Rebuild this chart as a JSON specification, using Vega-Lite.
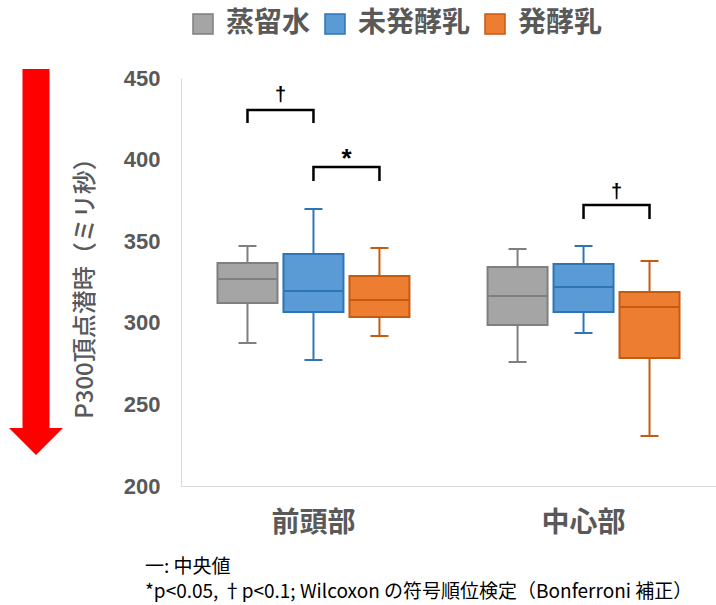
{
  "$schema": "https://vega.github.io/schema/vega-lite/v6.json",
  "padding": {"left": 9, "top": 10, "right": 0, "bottom": 0},
  "background": "white",
  "title": {
    "text": ["一:  中央値", "*p<0.05,  †p<0.1; Wilcoxon の符号順位検定（Bonferroni 補正）"],
    "orient": "bottom",
    "anchor": "start",
    "frame": "bounds",
    "dx": 136,
    "offset": 21,
    "font": "Noto Sans CJK JP",
    "fontSize": 19,
    "fontWeight": "normal",
    "color": "#000000",
    "lineHeight": 25
  },
  "datasets": {
    "boxes": [
      {"region": "前頭部", "group": "蒸留水", "min": 287.6, "q1": 312.1, "median": 326.8, "q3": 336.6, "max": 347.1},
      {"region": "前頭部", "group": "未発酵乳", "min": 277.2, "q1": 306.6, "median": 319.5, "q3": 342.2, "max": 369.7},
      {"region": "前頭部", "group": "発酵乳", "min": 291.9, "q1": 303.6, "median": 314.0, "q3": 328.7, "max": 345.8},
      {"region": "中心部", "group": "蒸留水", "min": 276.0, "q1": 298.7, "median": 316.4, "q3": 334.2, "max": 345.2},
      {"region": "中心部", "group": "未発酵乳", "min": 293.8, "q1": 306.6, "median": 321.9, "q3": 336.0, "max": 347.1},
      {"region": "中心部", "group": "発酵乳", "min": 230.6, "q1": 278.4, "median": 309.7, "q3": 318.9, "max": 337.9}
    ],
    "brackets": [
      {"id": "a", "ord": 1, "region": "前頭部", "group": "蒸留水", "val": 422.4},
      {"id": "a", "ord": 2, "region": "前頭部", "group": "蒸留水", "val": 430.4},
      {"id": "a", "ord": 3, "region": "前頭部", "group": "未発酵乳", "val": 430.4},
      {"id": "a", "ord": 4, "region": "前頭部", "group": "未発酵乳", "val": 422.4},
      {"id": "b", "ord": 1, "region": "前頭部", "group": "未発酵乳", "val": 386.9},
      {"id": "b", "ord": 2, "region": "前頭部", "group": "未発酵乳", "val": 395.5},
      {"id": "b", "ord": 3, "region": "前頭部", "group": "発酵乳", "val": 395.5},
      {"id": "b", "ord": 4, "region": "前頭部", "group": "発酵乳", "val": 386.9},
      {"id": "c", "ord": 1, "region": "中心部", "group": "未発酵乳", "val": 363.6},
      {"id": "c", "ord": 2, "region": "中心部", "group": "未発酵乳", "val": 372.2},
      {"id": "c", "ord": 3, "region": "中心部", "group": "発酵乳", "val": 372.2},
      {"id": "c", "ord": 4, "region": "中心部", "group": "発酵乳", "val": 363.6}
    ],
    "marks": [
      {"region": "前頭部", "group": "蒸留水", "label": "†", "val": 439.6},
      {"region": "前頭部", "group": "未発酵乳", "label": "*", "val": 402.8},
      {"region": "中心部", "group": "未発酵乳", "label": "†", "val": 380.1}
    ],
    "arrow": [
      {"pos": "a", "top": 455.5, "base": 235.5}
    ]
  },
  "resolve": {"scale": {"x": "independent", "y": "independent"}},
  "spacing": 10,
  "hconcat": [
    {
      "width": 54,
      "height": 408,
      "data": {"name": "arrow"},
      "layer": [
        {
          "mark": {"type": "rule", "color": "#FF0000", "strokeWidth": 27, "strokeCap": "butt", "clip": false},
          "encoding": {
            "x": {"field": "pos", "type": "nominal", "axis": null},
            "y": {"field": "top", "type": "quantitative", "scale": {"domain": [200, 450]}, "axis": null},
            "y2": {"field": "base"}
          }
        },
        {
          "mark": {"type": "point", "shape": "M-1,0L1,0L0,1Z", "size": 2916, "filled": true, "color": "#FF0000", "opacity": 1, "strokeWidth": 0, "clip": false},
          "encoding": {
            "x": {"field": "pos", "type": "nominal", "axis": null},
            "y": {"field": "base", "type": "quantitative", "scale": {"domain": [200, 450]}, "axis": null}
          }
        }
      ]
    },
    {
      "width": 535,
      "height": 408,
      "encoding": {
        "x": {
          "field": "region",
          "type": "nominal",
          "scale": {"domain": ["前頭部", "中心部"], "paddingInner": 0.267, "paddingOuter": 0.124},
          "axis": {
            "title": null,
            "labelAngle": 0,
            "labelFont": "Noto Sans CJK JP",
            "labelFontSize": 28,
            "labelFontWeight": "bold",
            "labelColor": "#595959",
            "labelPadding": 23,
            "domainColor": "#D9D9D9",
            "domainWidth": 1,
            "ticks": false
          }
        },
        "xOffset": {
          "field": "group",
          "type": "nominal",
          "scale": {"domain": ["蒸留水", "未発酵乳", "発酵乳"], "paddingInner": 0, "paddingOuter": 0}
        }
      },
      "layer": [
        {
          "data": {"name": "boxes"},
          "mark": {"type": "rule", "strokeWidth": 2},
          "encoding": {
            "y": {
              "field": "min",
              "type": "quantitative",
              "scale": {"domain": [200, 450], "nice": false, "zero": false},
              "axis": {
                "title": "P300頂点潜時（ミリ秒）",
                "titleFont": "Noto Sans CJK JP",
                "titleFontSize": 24,
                "titleFontWeight": 500,
                "titleColor": "#595959",
                "titlePadding": 26,
                "values": [200, 250, 300, 350, 400, 450],
                "labelFont": "Liberation Sans",
                "labelFontSize": 22,
                "labelFontWeight": "bold",
                "labelColor": "#595959",
                "labelPadding": 21,
                "ticks": false,
                "grid": false,
                "domainColor": "#D9D9D9",
                "domainWidth": 1
              }
            },
            "y2": {"field": "max"},
            "stroke": {
              "field": "group",
              "type": "nominal",
              "scale": {"domain": ["蒸留水", "未発酵乳", "発酵乳"], "range": ["#7F7F7F", "#2E75B6", "#C55A11"]}
            }
          }
        },
        {
          "data": {"name": "boxes"},
          "mark": {"type": "bar", "width": 60, "strokeWidth": 2},
          "encoding": {
            "y": {"field": "q1", "type": "quantitative"},
            "y2": {"field": "q3"},
            "fill": {
              "field": "group",
              "type": "nominal",
              "scale": {"domain": ["蒸留水", "未発酵乳", "発酵乳"], "range": ["#A5A5A5", "#5B9BD5", "#ED7D31"]}
            },
            "stroke": {"field": "group", "type": "nominal"}
          }
        },
        {
          "data": {"name": "boxes"},
          "mark": {"type": "bar", "width": 60, "strokeWidth": 2},
          "encoding": {
            "y": {"field": "median", "type": "quantitative"},
            "y2": {"field": "median"},
            "fill": {"field": "group", "type": "nominal"},
            "stroke": {"field": "group", "type": "nominal"}
          }
        },
        {
          "data": {"name": "boxes"},
          "mark": {"type": "bar", "width": 18, "strokeWidth": 2},
          "encoding": {
            "y": {"field": "max", "type": "quantitative"},
            "y2": {"field": "max"},
            "fill": {"field": "group", "type": "nominal"},
            "stroke": {"field": "group", "type": "nominal"}
          }
        },
        {
          "data": {"name": "boxes"},
          "mark": {"type": "bar", "width": 18, "strokeWidth": 2},
          "encoding": {
            "y": {"field": "min", "type": "quantitative"},
            "y2": {"field": "min"},
            "fill": {"field": "group", "type": "nominal"},
            "stroke": {"field": "group", "type": "nominal"}
          }
        },
        {
          "data": {"name": "brackets"},
          "mark": {"type": "line", "color": "#000000", "strokeWidth": 2.5, "strokeJoin": "miter", "strokeCap": "butt"},
          "encoding": {
            "y": {"field": "val", "type": "quantitative"},
            "detail": {"field": "id"},
            "order": {"field": "ord", "type": "quantitative"}
          }
        },
        {
          "data": {"name": "marks"},
          "transform": [{"filter": "datum.label == '†'"}],
          "mark": {"type": "text", "dx": 33, "font": "Liberation Sans", "fontSize": 20, "fontWeight": "bold", "color": "#000000", "baseline": "middle"},
          "encoding": {
            "y": {"field": "val", "type": "quantitative"},
            "text": {"field": "label"}
          }
        },
        {
          "data": {"name": "marks"},
          "transform": [{"filter": "datum.label == '*'"}],
          "mark": {"type": "text", "dx": 33, "dy": 4, "font": "Liberation Sans", "fontSize": 26, "fontWeight": "bold", "color": "#000000", "baseline": "middle"},
          "encoding": {
            "y": {"field": "val", "type": "quantitative"},
            "text": {"field": "label"}
          }
        }
      ]
    }
  ],
  "config": {
    "view": {"stroke": null},
    "legend": {
      "orient": "none",
      "legendX": 180,
      "legendY": -68,
      "direction": "horizontal",
      "title": null,
      "symbolType": "square",
      "symbolSize": 400,
      "symbolStrokeWidth": 1.5,
      "labelFont": "Noto Sans CJK JP",
      "labelFontSize": 28,
      "labelFontWeight": "bold",
      "labelColor": "#595959",
      "labelOffset": 9,
      "columnPadding": 10
    }
  }
}
